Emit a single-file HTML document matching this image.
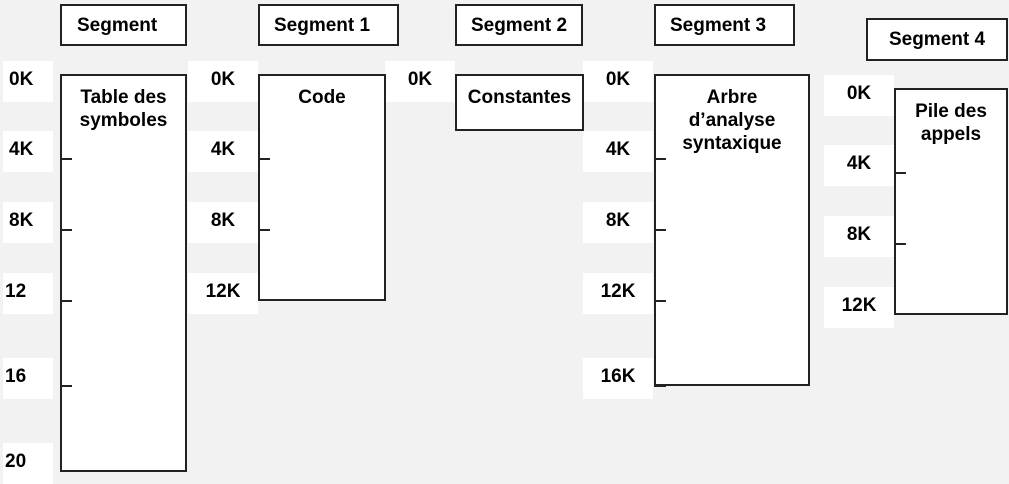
<!DOCTYPE html>
<html><head><style>
body{margin:0;width:1009px;height:472px;background:#f2f2f2;position:relative;overflow:hidden;font-family:"Liberation Sans",Arial,sans-serif;font-weight:bold;font-size:19px;color:#000}
.b{position:absolute;background:#fff;border:2px solid #222;box-sizing:border-box;text-align:center;line-height:23px;white-space:nowrap}
.l{position:absolute;background:#fff;width:70px;height:41px;box-sizing:border-box;padding-top:9px;text-align:center;line-height:20px;overflow:hidden}
.t{position:absolute;height:2px;width:12px;background:#222}
</style></head><body>
<div class="b" style="left:60px;top:4px;width:127px;height:42px;padding-top:8px;text-align:left;padding-left:15px">Segment</div>
<div class="b" style="left:258px;top:4px;width:141px;height:42px;padding-top:8px;text-align:left;padding-left:14px">Segment 1</div>
<div class="b" style="left:455px;top:4px;width:128px;height:42px;padding-top:8px">Segment 2</div>
<div class="b" style="left:654px;top:4px;width:141px;height:42px;padding-top:8px;text-align:left;padding-left:14px">Segment 3</div>
<div class="b" style="left:866px;top:18px;width:142px;height:43px;padding-top:8px">Segment 4</div>

<div class="l" style="left:3px;top:61px;width:50px;text-align:left;padding-left:6px">0K</div>
<div class="l" style="left:3px;top:131px;width:50px;text-align:left;padding-left:6px">4K</div>
<div class="l" style="left:3px;top:202px;width:50px;text-align:left;padding-left:6px">8K</div>
<div class="l" style="left:3px;top:273px;width:50px;text-align:left;padding-left:2px">12</div>
<div class="l" style="left:3px;top:358px;width:50px;text-align:left;padding-left:2px">16</div>
<div class="l" style="left:3px;top:443px;width:50px;text-align:left;padding-left:2px">20</div>

<div class="l" style="left:188px;top:61px">0K</div>
<div class="l" style="left:188px;top:131px">4K</div>
<div class="l" style="left:188px;top:202px">8K</div>
<div class="l" style="left:188px;top:273px">12K</div>

<div class="l" style="left:385px;top:61px">0K</div>

<div class="l" style="left:583px;top:61px">0K</div>
<div class="l" style="left:583px;top:131px">4K</div>
<div class="l" style="left:583px;top:202px">8K</div>
<div class="l" style="left:583px;top:273px">12K</div>
<div class="l" style="left:583px;top:358px">16K</div>

<div class="l" style="left:824px;top:75px">0K</div>
<div class="l" style="left:824px;top:145px">4K</div>
<div class="l" style="left:824px;top:216px">8K</div>
<div class="l" style="left:824px;top:287px">12K</div>

<div class="b" style="left:60px;top:74px;width:127px;height:398px;padding-top:10px">Table des<br>symboles</div>
<div class="b" style="left:258px;top:74px;width:128px;height:227px;padding-top:10px">Code</div>
<div class="b" style="left:455px;top:74px;width:129px;height:57px;padding-top:10px">Constantes</div>
<div class="b" style="left:654px;top:74px;width:156px;height:312px;padding-top:10px">Arbre<br>d’analyse<br>syntaxique</div>
<div class="b" style="left:894px;top:88px;width:114px;height:227px;padding-top:10px">Pile des<br>appels</div>

<div class="t" style="left:60px;top:158px"></div>
<div class="t" style="left:60px;top:229px"></div>
<div class="t" style="left:60px;top:300px"></div>
<div class="t" style="left:60px;top:385px"></div>
<div class="t" style="left:258px;top:158px"></div>
<div class="t" style="left:258px;top:229px"></div>
<div class="t" style="left:258px;top:299px"></div>
<div class="t" style="left:654px;top:158px"></div>
<div class="t" style="left:654px;top:229px"></div>
<div class="t" style="left:654px;top:300px"></div>
<div class="t" style="left:654px;top:385px"></div>
<div class="t" style="left:894px;top:172px"></div>
<div class="t" style="left:894px;top:243px"></div>
<div class="t" style="left:894px;top:313px"></div>
</body></html>
